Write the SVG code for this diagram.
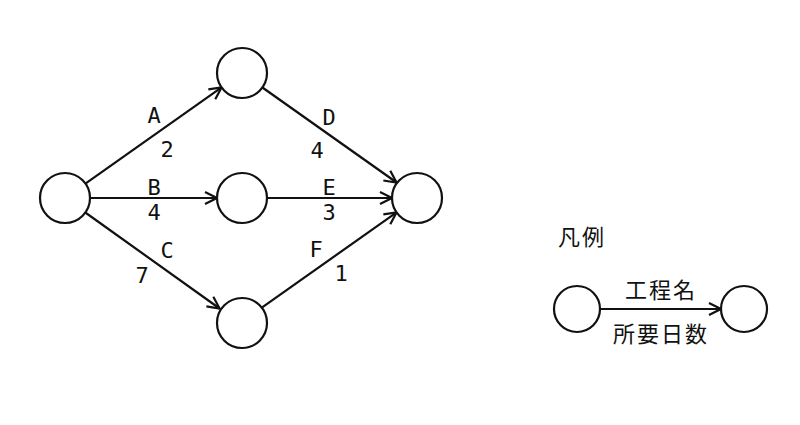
<svg xmlns="http://www.w3.org/2000/svg" width="800" height="425" viewBox="0 0 800 425">
<style>
.n{fill:#fff;stroke:#111;stroke-width:2.2}
.e{stroke:#111;stroke-width:2.2;fill:none;marker-end:url(#ah)}
.l{font-family:"DejaVu Sans Mono","Liberation Mono",monospace;font-size:22px;fill:#111;text-anchor:middle}
.j{font-family:"Noto Sans CJK JP",sans-serif;font-size:22px;fill:#111;text-anchor:middle;letter-spacing:2px}
</style>
<defs>
<marker id="ah" markerUnits="userSpaceOnUse" viewBox="0 0 14 14" refX="13" refY="7" markerWidth="14" markerHeight="14" orient="auto">
<path d="M1,1 L13,7 L1,13" fill="none" stroke="#111" stroke-width="2.2"/>
</marker>
</defs>
<rect width="800" height="425" fill="#fff"/>
<g id="connectors">
<line class="e" x1="85.4" y1="183.6" x2="221.6" y2="87.4"/>
<line class="e" x1="90" y1="198" x2="217" y2="198"/>
<line class="e" x1="85.3" y1="212.5" x2="219.6" y2="308.5"/>
<line class="e" x1="262.4" y1="87.5" x2="396.6" y2="182.5"/>
<line class="e" x1="267" y1="198" x2="392" y2="198"/>
<line class="e" x1="260.4" y1="308.6" x2="396.6" y2="212.4"/>
<line class="e" x1="600" y1="309" x2="721" y2="309"/>
</g>
<g id="labels">
<text class="l" x="154" y="123">A</text>
<text class="l" x="167" y="157">2</text>
<text class="l" x="154" y="195">B</text>
<text class="l" x="154" y="220">4</text>
<text class="l" x="167" y="258">C</text>
<text class="l" x="142" y="283">7</text>
<text class="l" x="329" y="125">D</text>
<text class="l" x="317" y="158">4</text>
<text class="l" x="329" y="195">E</text>
<text class="l" x="329" y="220">3</text>
<text class="l" x="316" y="257">F</text>
<text class="l" x="341" y="281">1</text>
</g>
<g id="node-start"><circle class="n" cx="65" cy="198" r="25"/></g>
<g id="node-top"><circle class="n" cx="242" cy="73" r="25"/></g>
<g id="node-mid"><circle class="n" cx="242" cy="198" r="25"/></g>
<g id="node-bottom"><circle class="n" cx="242" cy="323" r="25"/></g>
<g id="node-end"><circle class="n" cx="417" cy="198" r="25"/></g>
<g id="legend">
<text class="j" x="582" y="245">凡例</text>
<circle class="n" cx="577" cy="309" r="23"/>
<circle class="n" cx="744" cy="309" r="23"/>
<text class="j" x="661" y="298">工程名</text>
<text class="j" x="661" y="342">所要日数</text>
</g>
</svg>
